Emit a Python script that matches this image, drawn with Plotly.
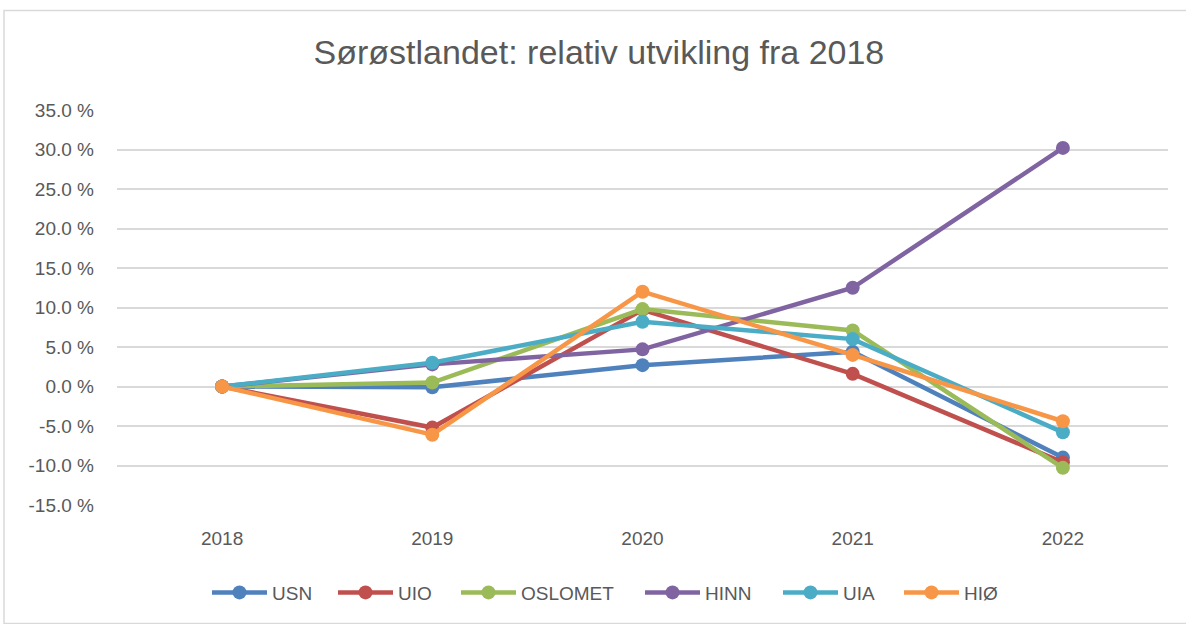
import plotly.graph_objects as go

years = ["2018", "2019", "2020", "2021", "2022"]
series_names = ["USN", "UIO", "OSLOMET", "HINN", "UIA", "HIØ"]
usn = [0.0, -0.1, 2.7, 4.4, -9.0]
uio = [0.0, -5.2, 9.7, 1.6, -9.6]
oslomet = [0.0, 0.5, 9.8, 7.1, -10.3]
hinn = [0.0, 2.8, 4.7, 12.5, 30.2]
uia = [0.0, 3.0, 8.2, 6.0, -5.8]
hio = [0.0, -6.1, 12.0, 4.0, -4.4]
colors = ["#4F81BD", "#C0504D", "#9BBB59", "#8064A2", "#4BACC6", "#F79646"]
y_ticks = [-15, -10, -5, 0, 5, 10, 15, 20, 25, 30, 35]
y_tick_text = [f"{v:.1f} %" for v in y_ticks]

font_family = "Liberation Sans, Arial"

W, H = 1186, 624
L, R, T, B = 117, 18, 110, 117
pw, ph = W - L - R, H - T - B

# pixel x where each legend entry's symbol starts (layout only)
legend_px = [213, 339, 462, 646, 784, 905]
legend_ids = ["legend", "legend2", "legend3", "legend4", "legend5", "legend6"]

fig = go.Figure()
for name, vals, col, lid in zip(series_names, [usn, uio, oslomet, hinn, uia, hio], colors, legend_ids):
    fig.add_trace(go.Scatter(
        x=years, y=vals, name=name, mode="lines+markers", legend=lid,
        line=dict(color=col, width=4.5),
        marker=dict(color=col, size=14),
    ))

legend_common = dict(orientation="h", xanchor="left", y=(H - B - 595) / ph, yanchor="middle",
                     font=dict(size=19, color="#595959"), itemwidth=55, bgcolor="rgba(0,0,0,0)")
legend_layout = {lid: dict(x=(px - 6 - L) / pw, **legend_common) for lid, px in zip(legend_ids, legend_px)}

fig.update_layout(
    width=W, height=H,
    margin=dict(l=L, r=R, t=T, b=B),
    paper_bgcolor="white", plot_bgcolor="white",
    font=dict(family=font_family, color="#595959", size=19),
    title=dict(text="Sørøstlandet: relativ utvikling fra 2018", x=0.505, xanchor="center",
               y=1 - 52 / H, yanchor="middle", font=dict(size=34, color="#595959")),
    showlegend=True,
    xaxis=dict(type="category", range=[-0.5, 4.5], showgrid=False, showline=False,
               ticks="", ticklabelstandoff=20, tickfont=dict(size=19, color="#595959")),
    yaxis=dict(range=[-15, 35], tickvals=y_ticks, ticktext=y_tick_text,
               showgrid=True, gridcolor="#D9D9D9", gridwidth=1.5, zeroline=False,
               showline=False, ticks="", ticklabelstandoff=22, tickfont=dict(size=19, color="#595959")),
    shapes=[dict(type="rect", xref="paper", yref="paper",
                 x0=(4 - L) / pw, x1=(W + 2 - L) / pw,
                 y0=(H - B - (H + 2)) / ph, y1=(H - B - 10) / ph,
                 line=dict(color="#D9D9D9", width=1.5), fillcolor="rgba(0,0,0,0)", layer="below")],
    **legend_layout,
)

fig.write_html("out.html", config={"displayModeBar": False},
               post_script="document.body.style.margin='0';")
